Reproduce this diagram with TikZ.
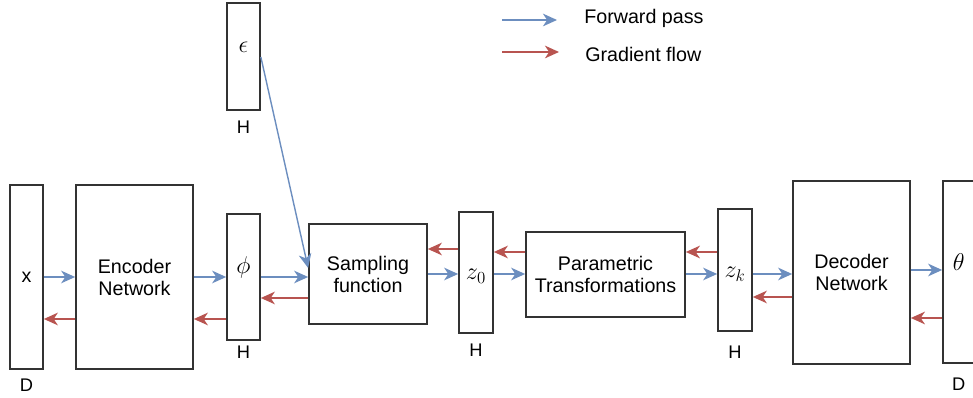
\documentclass[tikz,border=0pt]{standalone}
\usepackage{fontspec}
\setmainfont{Liberation Sans}
\usetikzlibrary{arrows.meta}
\definecolor{fwdblue}{HTML}{6C8EBF}
\definecolor{gradred}{HTML}{B85450}
\definecolor{edgegray}{HTML}{333333}
\tikzset{
	blk/.style={draw=edgegray, line width=1.2pt, inner sep=0pt, align=center},
	dimlbl/.style={font=\fontsize{13}{15}\selectfont, inner sep=0pt},
	varlbl/.style={font=\fontsize{18}{20}\selectfont, inner sep=0pt},
	fwd/.style={draw=fwdblue, line width=1pt, -{Stealth[length=10pt, width=9pt, inset=3pt]}},
	grad/.style={draw=gradred, line width=1pt, -{Stealth[length=10pt, width=9pt, inset=3pt]}}
}
\begin{document}
\begin{tikzpicture}[x=0.025cm, y=-0.025cm, font=\fontsize{14}{15.6}\selectfont]
		\useasboundingbox (0,0) rectangle (973,398);
		
		\node[blk, minimum width=0.825cm, minimum height=4.6cm, label={[dimlbl, label distance=6.4pt]below:D}] (xin) at (26.5,277) {x};
		\node[blk, minimum width=2.925cm, minimum height=4.6cm] (enc) at (134.5,277) {Encoder\\Network};
		\node[blk, minimum width=0.825cm, minimum height=3.15cm, label={[dimlbl, label distance=3.5pt]below:H}, label={[varlbl, yshift=7pt]center:$\phi$}] (phi) at (243.5,277) {};
		\node[blk, minimum width=0.825cm, minimum height=2.675cm, label={[dimlbl, label distance=7pt]below:H}, label={[varlbl, yshift=6.8pt]center:$\epsilon$}] (eps) at (243.5,56.5) {};
		\node[blk, minimum width=2.95cm, minimum height=2.5cm] (samp) at (368,274) {Sampling\\function};
		\node[blk, minimum width=0.85cm, minimum height=3.025cm, label={[dimlbl, label distance=7pt]below:H}, label={[varlbl, yshift=-2.5pt]center:$z_0$}] (z0) at (476,272.5) {};
		\node[blk, minimum width=3.975cm, minimum height=2.125cm] (param) at (605.5,274.5) {Parametric\\Transformations};
		\node[blk, minimum width=0.85cm, minimum height=3.05cm, label={[dimlbl, label distance=10pt]below:H}, label={[varlbl, yshift=-3pt]center:$z_k$}] (zk) at (735,270) {};
		\node[blk, minimum width=2.925cm, minimum height=4.575cm] (dec) at (851.5,272.5) {Decoder\\Network};
		\node[blk, minimum width=1.0cm, minimum height=4.55cm, label={[dimlbl, label distance=10pt, xshift=-3pt]below:D}, label={[varlbl, xshift=-3pt, yshift=7pt]center:$\theta$}] (theta) at (963,272) {};
		
		\coordinate (fwdA) at (502,20); \coordinate (fwdB) at (557,20);
		\coordinate (gradA) at (502,52); \coordinate (gradB) at (559,52);
		\node[anchor=west, inner sep=0pt] (fwdtxt) at (584,18) {Forward pass};
		\node[anchor=west, inner sep=0pt] (gradtxt) at (585,54) {Gradient flow};
		\draw[fwd] (fwdA) to (fwdB); \draw[grad] (gradA) to (gradB);
		
		\draw[fwd] (xin.east |- 0,277) to (enc.west |- 0,277); \draw[grad] (enc.west |- 0,319) to (xin.east |- 0,319);
		\draw[fwd] (enc.east |- 0,277) to (phi.west |- 0,277); \draw[grad] (phi.west |- 0,319) to (enc.east |- 0,319);
		\draw[fwd] (phi.east |- 0,277) to (samp.west |- 0,277); \draw[grad] (samp.west |- 0,298) to (phi.east |- 0,298);
		\draw[fwd] (eps.east |- 0,57) to (samp.west |- 0,268);
		\draw[fwd] (samp.east |- 0,274) to (z0.west |- 0,274); \draw[grad] (z0.west |- 0,249) to (samp.east |- 0,249);
		\draw[fwd] (z0.east |- 0,274) to (param.west |- 0,274); \draw[grad] (param.west |- 0,252) to (z0.east |- 0,252);
		\draw[fwd] (param.east |- 0,274) to (zk.west |- 0,274); \draw[grad] (zk.west |- 0,252) to (param.east |- 0,252);
		\draw[fwd] (zk.east |- 0,274) to (dec.west |- 0,274); \draw[grad] (dec.west |- 0,297) to (zk.east |- 0,297);
		\draw[fwd] (dec.east |- 0,270) to (theta.west |- 0,270); \draw[grad] (theta.west |- 0,318) to (dec.east |- 0,318);
\end{tikzpicture}
\end{document}
